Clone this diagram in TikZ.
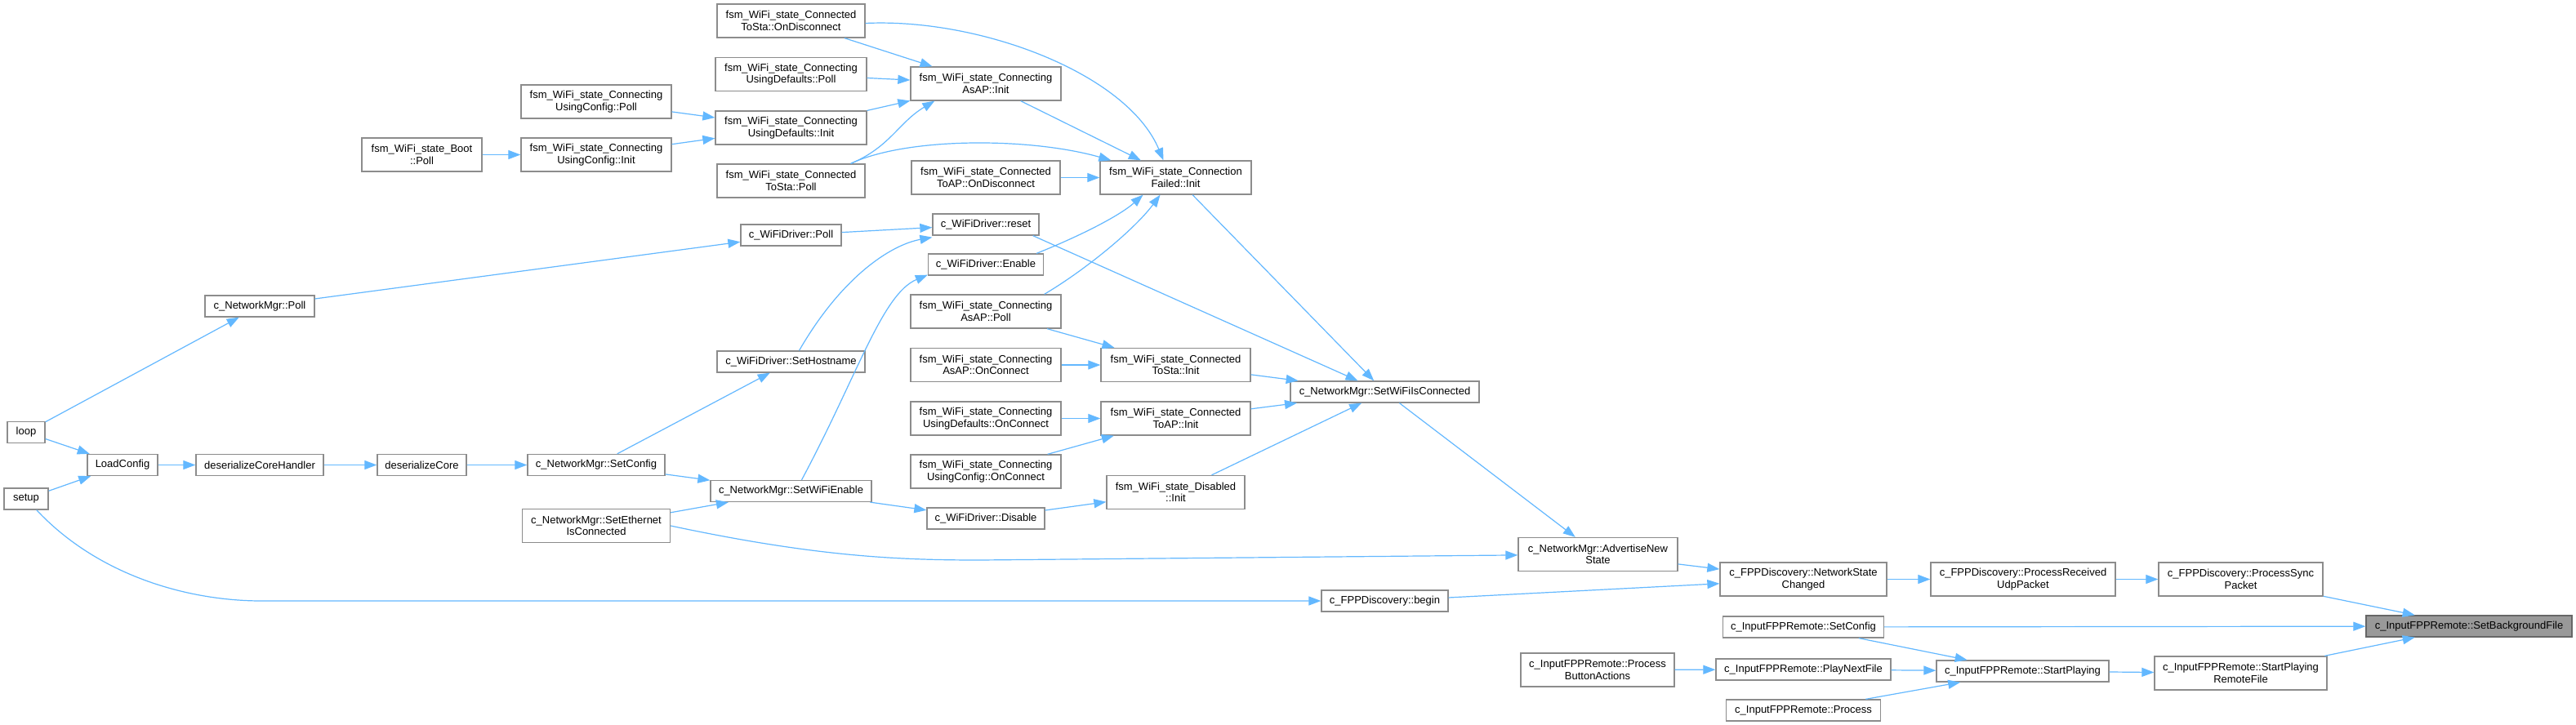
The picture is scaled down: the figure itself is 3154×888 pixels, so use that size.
\documentclass[tikz,border=0pt]{standalone}
\usepackage{fontspec}
\setmainfont{Liberation Sans}
\usetikzlibrary{arrows.meta}
\definecolor{edgeblue}{HTML}{63B8FF}
\definecolor{boxgray}{HTML}{8C8C8C}
\definecolor{rootdraw}{HTML}{666666}
\definecolor{rootfill}{HTML}{999999}
\begin{document}
\begin{tikzpicture}[x=1pt,y=-1pt,
  nd/.style={draw=boxgray, fill=white, line width=1.3pt, minimum height=26pt, inner sep=1pt, align=center,
     font=\fontsize{13}{14.5}\selectfont},
  nd2/.style={nd, minimum height=41pt},
  root/.style={nd, draw=rootdraw, fill=rootfill},
  ed/.style={draw=edgeblue, line width=1.2pt, -{Triangle[length=15pt,width=11pt]}}]
\fill[white] (0,0) rectangle (3154,888);
\useasboundingbox (0,0) rectangle (3154,888);
% nodes
\node[nd, minimum width=46] (loop) at (32,529.5) {loop};
\node[nd, minimum width=54] (setup) at (32,611) {setup};
\node[nd, minimum width=86] (lc) at (150,569.5) {LoadConfig};
\node[nd, minimum width=156] (dch) at (318,569.5) {deserializeCoreHandler};
\node[nd, minimum width=109] (dc) at (516.5,569.5) {deserializeCore};
\node[nd, minimum width=134] (nmpoll) at (318,375) {c\_NetworkMgr::Poll};
\node[nd2, minimum width=147] (boot) at (516.5,189.5) {fsm\_WiFi\_state\_Boot\\::Poll};
\node[nd2, minimum width=184] (ucpoll) at (730,124.5) {fsm\_WiFi\_state\_Connecting\\UsingConfig::Poll};
\node[nd2, minimum width=184] (ucinit) at (730,189.5) {fsm\_WiFi\_state\_Connecting\\UsingConfig::Init};
\node[nd, minimum width=168] (setcfg) at (730,569.5) {c\_NetworkMgr::SetConfig};
\node[nd2, minimum width=181] (seteth) at (730,644) {c\_NetworkMgr::SetEthernet\\IsConnected};
\node[nd2, minimum width=181] (tstadisc) at (968.5,25.5) {fsm\_WiFi\_state\_Connected\\ToSta::OnDisconnect};
\node[nd2, minimum width=185] (udpoll) at (968.5,91) {fsm\_WiFi\_state\_Connecting\\UsingDefaults::Poll};
\node[nd2, minimum width=185] (udinit) at (968.5,156.5) {fsm\_WiFi\_state\_Connecting\\UsingDefaults::Init};
\node[nd2, minimum width=181] (tstapoll) at (968.5,221.5) {fsm\_WiFi\_state\_Connected\\ToSta::Poll};
\node[nd, minimum width=123] (wdpoll) at (968.5,288) {c\_WiFiDriver::Poll};
\node[nd, minimum width=181] (host) at (968.5,443) {c\_WiFiDriver::SetHostname};
\node[nd, minimum width=197] (wfen) at (968.5,601.5) {c\_NetworkMgr::SetWiFiEnable};
\node[nd2, minimum width=184] (apinit) at (1207,102.5) {fsm\_WiFi\_state\_Connecting\\AsAP::Init};
\node[nd2, minimum width=182] (tapdisc) at (1207,217.5) {fsm\_WiFi\_state\_Connected\\ToAP::OnDisconnect};
\node[nd, minimum width=130] (reset) at (1207,275) {c\_WiFiDriver::reset};
\node[nd, minimum width=141] (enable) at (1207,324) {c\_WiFiDriver::Enable};
\node[nd2, minimum width=184] (appoll) at (1207,381.5) {fsm\_WiFi\_state\_Connecting\\AsAP::Poll};
\node[nd2, minimum width=184] (apconn) at (1207,447) {fsm\_WiFi\_state\_Connecting\\AsAP::OnConnect};
\node[nd2, minimum width=184] (udconn) at (1207,512.5) {fsm\_WiFi\_state\_Connecting\\UsingDefaults::OnConnect};
\node[nd2, minimum width=184] (ucconn) at (1207,577.5) {fsm\_WiFi\_state\_Connecting\\UsingConfig::OnConnect};
\node[nd, minimum width=144] (disable) at (1207,635) {c\_WiFiDriver::Disable};
\node[nd2, minimum width=185] (cfi) at (1439.5,217.5) {fsm\_WiFi\_state\_Connection\\Failed::Init};
\node[nd2, minimum width=183] (tstainit) at (1439.5,447) {fsm\_WiFi\_state\_Connected\\ToSta::Init};
\node[nd2, minimum width=183] (tapinit) at (1439.5,512.5) {fsm\_WiFi\_state\_Connected\\ToAP::Init};
\node[nd2, minimum width=169] (disinit) at (1439.5,603) {fsm\_WiFi\_state\_Disabled\\::Init};
\node[nd, minimum width=231] (swic) at (1695.5,480) {c\_NetworkMgr::SetWiFiIsConnected};
\node[nd, minimum width=155] (begin) at (1695.5,736) {c\_FPPDiscovery::begin};
\node[nd2, minimum width=195] (adv) at (1956.5,679) {c\_NetworkMgr::AdvertiseNew\\State};
\node[nd2, minimum width=188] (pba) at (1956,820.5) {c\_InputFPPRemote::Process\\ButtonActions};
\node[nd2, minimum width=204] (nsc) at (2208,709.5) {c\_FPPDiscovery::NetworkState\\Changed};
\node[nd, minimum width=197] (ifcfg) at (2208,768) {c\_InputFPPRemote::SetConfig};
\node[nd, minimum width=214] (pnf) at (2208,820) {c\_InputFPPRemote::PlayNextFile};
\node[nd, minimum width=189] (proc) at (2208,870) {c\_InputFPPRemote::Process};
\node[nd2, minimum width=226] (prup) at (2477,709.5) {c\_FPPDiscovery::ProcessReceived\\UdpPacket};
\node[nd, minimum width=211] (sp) at (2476.5,822) {c\_InputFPPRemote::StartPlaying};
\node[nd2, minimum width=201] (psp) at (2743.5,709.5) {c\_FPPDiscovery::ProcessSync\\Packet};
\node[nd2, minimum width=211] (sprf) at (2743.5,824.5) {c\_InputFPPRemote::StartPlaying\\RemoteFile};
\node[root, minimum width=252] (sbf) at (3023,767) {c\_InputFPPRemote::SetBackgroundFile};
% edges
\draw[ed] (loop) -- (nmpoll);
\draw[ed] (loop) -- (lc);
\draw[ed] (setup) -- (lc);
\draw[ed] (setup) .. controls (120,705) and (230,736) .. (320,736) -- (begin);
\draw[ed] (lc) -- (dch);
\draw[ed] (dch) -- (dc);
\draw[ed] (dc) -- (setcfg);
\draw[ed] (setcfg) -- (host);
\draw[ed] (setcfg) -- (wfen);
\draw[ed] (seteth) -- (wfen);
\draw[ed] (seteth.east) .. controls (1000,682) and (1100,686) .. (1200,686) -- (adv);
\draw[ed] (nmpoll) -- (wdpoll);
\draw[ed] (boot) -- (ucinit);
\draw[ed] (ucpoll) -- (udinit);
\draw[ed] (ucinit) -- (udinit);
\draw[ed] (tstadisc) -- (apinit);
\draw[ed] ([yshift=-3pt]tstadisc.east) .. controls (1200,22) and (1380,90) .. ([xshift=-15pt]cfi.north);
\draw[ed] (udpoll) -- (apinit);
\draw[ed] (udinit) -- (apinit);
\draw[ed] ([xshift=-18pt]tstapoll.north east) .. controls (1090,180) and (1100,150) .. ([xshift=30pt]apinit.south west);
\draw[ed] ([xshift=-18pt]tstapoll.north east) .. controls (1110,168) and (1260,168) .. ([xshift=14pt]cfi.north west);
\draw[ed] (apinit) -- (cfi);
\draw[ed] (tapdisc) -- (cfi);
\draw[ed] (wdpoll) -- (reset);
\draw[ed] ([xshift=10pt]host.north) .. controls (1030,340) and (1090,300) .. ([yshift=-2pt]reset.south west);
\draw[ed] ([xshift=13pt]wfen.north) .. controls (1050,460) and (1080,360) .. ([yshift=1pt]enable.south west);
\draw[ed] (wfen) -- (disable);
\draw[ed] ([xshift=-8pt]reset.south east) -- ([xshift=-33pt]swic.north);
\draw[ed] ([xshift=-9pt]enable.north east) .. controls (1320,290) and (1370,265) .. ([xshift=-40pt]cfi.south);
\draw[ed] ([xshift=-21pt]appoll.north east) .. controls (1330,330) and (1390,280) .. ([xshift=-19pt]cfi.south);
\draw[ed] (appoll) -- (tstainit);
\draw[ed] (cfi) -- (swic);
\draw[ed] (apconn) -- (tstainit);
\draw[ed] (udconn) -- (tapinit);
\draw[ed] (ucconn) -- (tapinit);
\draw[ed] (tstainit) -- (swic);
\draw[ed] (tapinit) -- (swic);
\draw[ed] (disinit) -- (swic);
\draw[ed] (disable) -- (disinit);
\draw[ed] (swic) -- (adv);
\draw[ed] (adv) -- (nsc);
\draw[ed] (begin) -- (nsc);
\draw[ed] (nsc) -- (prup);
\draw[ed] (prup) -- (psp);
\draw[ed] (psp) -- (sbf);
\draw[ed] (ifcfg) -- (sbf);
\draw[ed] (ifcfg) -- (sp);
\draw[ed] (pba) -- (pnf);
\draw[ed] (pnf) -- (sp);
\draw[ed] (proc) -- (sp);
\draw[ed] (sp) -- (sprf);
\draw[ed] (sprf) -- (sbf);
\end{tikzpicture}
\end{document}
